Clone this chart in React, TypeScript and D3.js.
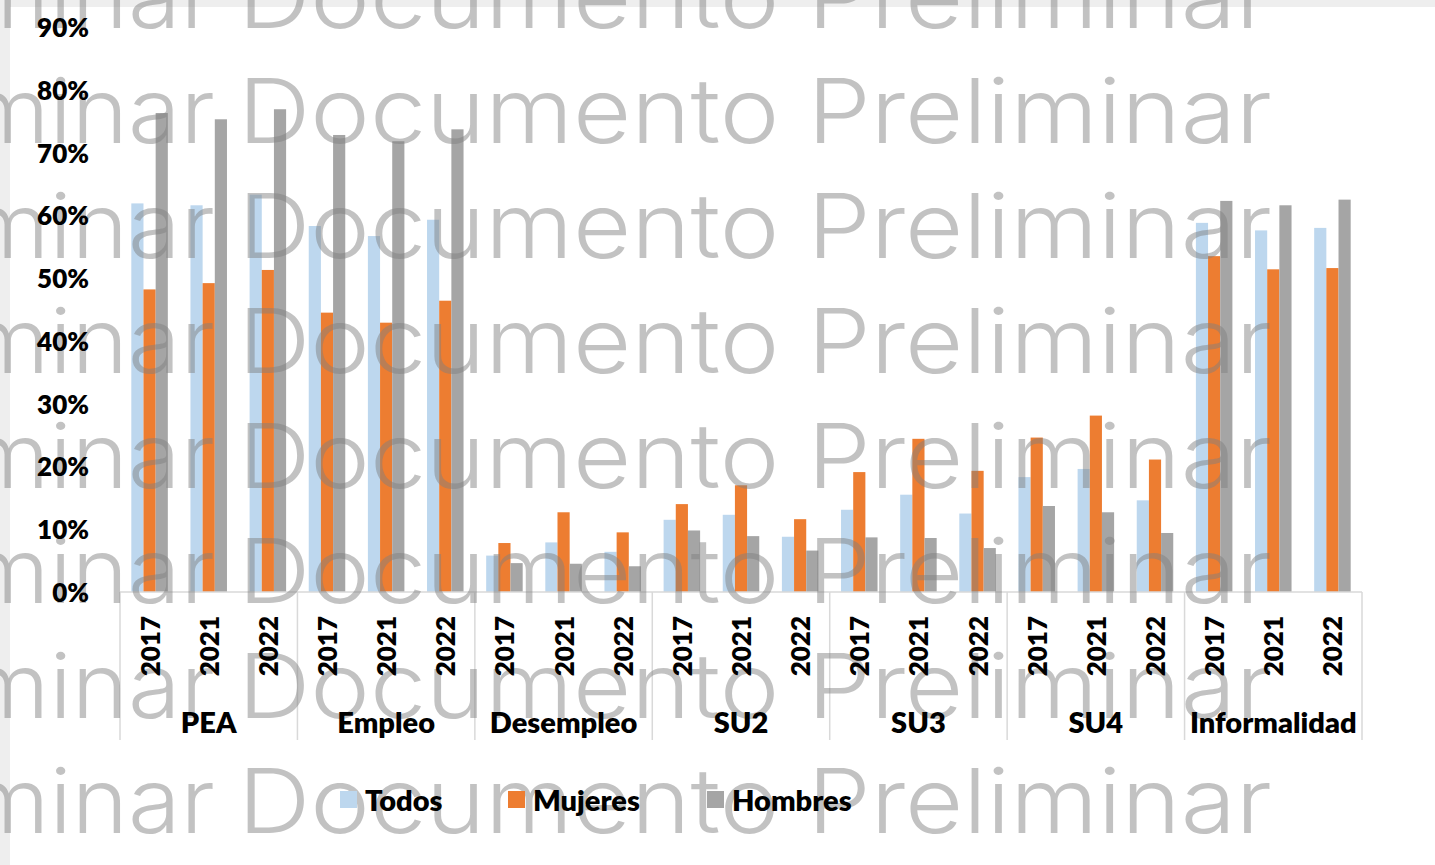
import * as d3 from "d3";

// valores (%)
const groups = ["PEA", "Empleo", "Desempleo", "SU2", "SU3", "SU4", "Informalidad"];
const years = ["2017", "2021", "2022"];
const seriesNames = ["Todos", "Mujeres", "Hombres"];
const seriesColors = ["#bdd7ee", "#ed7d31", "#a5a5a5"];

const todos = [61.9, 61.6, 63.3, 58.3, 56.7, 59.3, 5.8, 7.9, 6.4, 11.5, 12.3, 8.8, 13.1, 15.5, 12.5, 18.3, 19.6, 14.6, 58.8, 57.6, 58.0];
const mujeres = [48.2, 49.2, 51.3, 44.5, 42.9, 46.4, 7.8, 12.7, 9.5, 14.0, 17.0, 11.6, 19.1, 24.4, 19.3, 24.6, 28.1, 21.1, 53.5, 51.4, 51.6];
const hombres = [76.3, 75.3, 76.9, 72.8, 71.8, 73.7, 4.6, 4.5, 4.1, 9.8, 8.9, 6.6, 8.7, 8.6, 7.0, 13.7, 12.7, 9.4, 62.3, 61.6, 62.5];

const yTicks = [0, 10, 20, 30, 40, 50, 60, 70, 80, 90];

const W = 1435, H = 865;
const left = 120, right = 1362, y0 = 592, yTop = 27;

export default function App() {
  const values = [todos, mujeres, hombres];

  const x0 = d3.scaleBand<string>().domain(groups).range([left, right]);
  const x1 = d3.scaleBand<string>().domain(years).range([0, x0.bandwidth()]);
  const x2 = d3.scaleBand<string>().domain(seriesNames).range([0, x1.bandwidth()]).paddingOuter(0.93);
  const y = d3.scaleLinear().domain([0, 90]).range([y0, yTop]);

  const font = "Lato, 'Open Sans', sans-serif";
  const wmFont = "Inter, 'Noto Sans', sans-serif";
  const wmRows = d3.range(28, H + 20, 115);

  return (
    <svg width={W} height={H} style={{ position: "absolute", left: 0, top: 0, background: "#fff" }}>
      <rect x={0} y={0} width={10} height={H} fill="#eeeeee" />
      <rect x={0} y={0} width={W} height={7} fill="#eeeeee" />

      {/* barras */}
      {groups.map((g, gi) =>
        years.map((yr, yi) =>
          seriesNames.map((s, si) => {
            const v = values[si][gi * 3 + yi];
            return (
              <rect
                key={g + yr + s}
                x={x0(g)! + x1(yr)! + x2(s)!}
                y={y(v)}
                width={x2.bandwidth()}
                height={y0 - y(v)}
                fill={seriesColors[si]}
              />
            );
          })
        )
      )}

      {/* eje horizontal y separadores */}
      <line x1={left} x2={right} y1={y0} y2={y0} stroke="#d9d9d9" strokeWidth={1.5} />
      {[...groups.map((g) => x0(g)!), right].map((xx, i) => (
        <line key={i} x1={xx} x2={xx} y1={y0} y2={740} stroke="#d9d9d9" strokeWidth={1.5} />
      ))}

      {/* marca de agua */}
      <g fill="#7f7f7f" fillOpacity={0.48} fontFamily={wmFont} fontWeight={300} fontSize={90}>
        {wmRows.map((ry) => (
          <g key={ry}>
            <text x={215} y={ry} textAnchor="end" textLength={442} lengthAdjust="spacingAndGlyphs">
              Preliminar
            </text>
            <text x={238} y={ry} textLength={1034} lengthAdjust="spacingAndGlyphs">
              Documento Preliminar
            </text>
          </g>
        ))}
      </g>

      {/* eje y */}
      <g fontFamily={font} fontWeight={800} fontSize={26} fill="#000">
        {yTicks.map((t) => (
          <text key={t} x={89} y={y(t)} textAnchor="end" dominantBaseline="central">
            {t}%
          </text>
        ))}
      </g>

      {/* etiquetas de años y grupos */}
      <g fontFamily={font} fontWeight={800} fill="#000">
        {groups.map((g) =>
          years.map((yr) => {
            const cx = x0(g)! + x1(yr)! + x1.bandwidth() / 2;
            return (
              <text
                key={g + yr}
                transform={`translate(${cx},616) rotate(-90)`}
                textAnchor="end"
                dominantBaseline="central"
                fontSize={26}
              >
                {yr}
              </text>
            );
          })
        )}
        {groups.map((g) => (
          <text key={g} x={x0(g)! + x0.bandwidth() / 2} y={721} textAnchor="middle" dominantBaseline="central" fontSize={29}>
            {g}
          </text>
        ))}
      </g>

      {/* leyenda */}
      <g fontFamily={font} fontWeight={800} fontSize={29} fill="#000">
        {seriesNames.map((s, i) => {
          const lx = [340, 508, 707][i];
          return (
            <g key={s}>
              <rect x={lx} y={791} width={17} height={17} fill={seriesColors[i]} />
              <text x={lx + 25} y={799} dominantBaseline="central">
                {s}
              </text>
            </g>
          );
        })}
      </g>
    </svg>
  );
}
